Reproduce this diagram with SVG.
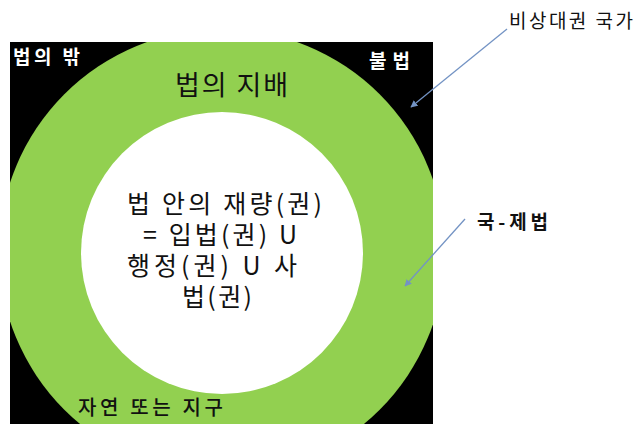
<svg xmlns="http://www.w3.org/2000/svg" width="640" height="426" viewBox="0 0 640 426">
  <style>
    .t { font-family: "Noto Sans CJK KR", "Noto Sans", sans-serif; }
    .wl { fill: #ffffff; font-size: 19px; font-weight: bold; }
    .dk { fill: #111111; }
    .conn { stroke: #7393c4; stroke-width: 1.3; fill: none; marker-end: url(#ah); }
  </style>
  <defs>
    <clipPath id="sq">
      <rect x="10" y="42" width="423" height="382"/>
    </clipPath>
    <marker id="ah" viewBox="0 0 10 10" refX="9" refY="5" markerWidth="7" markerHeight="7" markerUnits="userSpaceOnUse" orient="auto">
      <path d="M0,0 L10,5 L0,10 z" fill="#7393c4"/>
    </marker>
  </defs>
  <rect width="640" height="426" fill="#ffffff"/>

  <g id="outside">
    <rect x="10" y="42" width="423" height="382" fill="#000000"/>
    <text class="t wl" x="13" y="64" textLength="67">법의 밖</text>
    <text class="t wl" x="369" y="68" textLength="41">불법</text>
  </g>

  <g id="rule-of-law" clip-path="url(#sq)">
    <circle cx="222" cy="252" r="223" fill="#92d050"/>
    <text class="t dk" x="175" y="95" font-size="27" textLength="113">법의 지배</text>
    <text class="t dk" x="78" y="415" font-size="20" font-weight="500" textLength="145">자연 또는 지구</text>
  </g>

  <g id="discretion">
    <circle cx="222" cy="253" r="141" fill="#ffffff"/>
    <text class="t dk" x="127" y="213" font-size="25" textLength="195">법 안의 재량(권)</text>
    <text class="t dk" x="143" y="244" font-size="25" textLength="154">= 입법(권) U</text>
    <text class="t dk" x="127" y="275" font-size="25" textLength="170">행정(권) U 사</text>
    <text class="t dk" x="182" y="306" font-size="25" textLength="70">법(권)</text>
  </g>

  <g id="emergency-state">
    <text class="t dk" x="509" y="28" font-size="19" textLength="124">비상대권 국가</text>
  </g>

  <g id="intl-law">
    <text class="t dk" x="477" y="229" font-size="19" font-weight="bold" textLength="71">국-제법</text>
  </g>

  <g id="connectors">
    <line class="conn" x1="507" y1="29" x2="411" y2="107"/>
    <line class="conn" x1="465" y1="219" x2="405" y2="286"/>
  </g>
</svg>
